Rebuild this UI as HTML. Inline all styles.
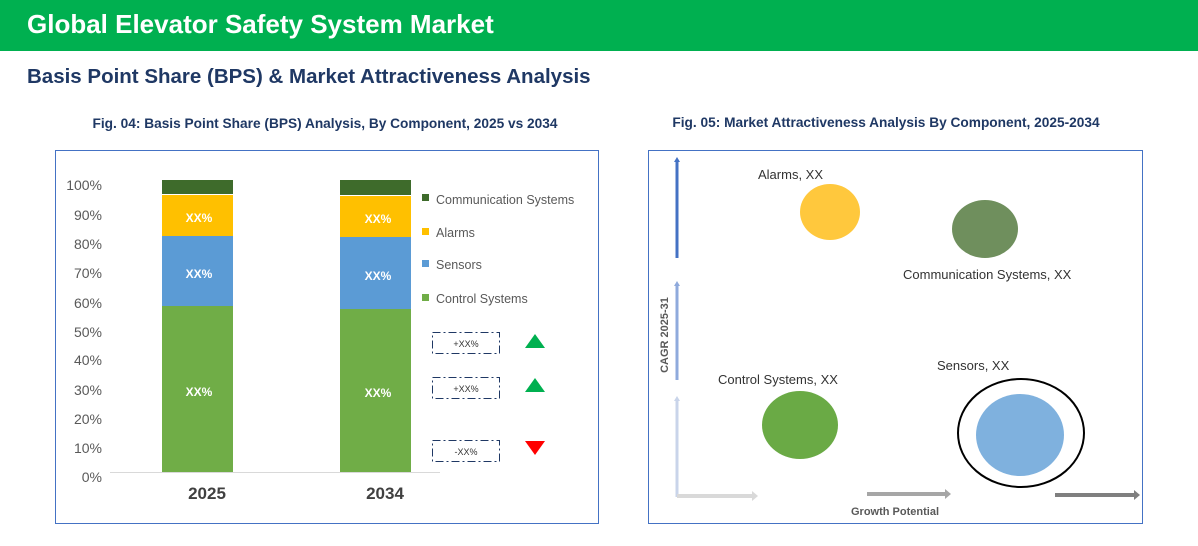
<!DOCTYPE html>
<html><head><meta charset="utf-8"><style>
body{margin:0;width:1198px;height:541px;background:#fff;overflow:hidden;font-family:"Liberation Sans",sans-serif}
</style></head><body>
<svg width="1198" height="541" xmlns="http://www.w3.org/2000/svg" font-family="Liberation Sans, sans-serif">
<rect x="0" y="0" width="1198" height="51" fill="#00b050"/>
<text x="27" y="33" font-size="26" font-weight="bold" fill="#fff">Global Elevator Safety System Market</text>
<text x="27" y="83" font-size="20.5" font-weight="bold" fill="#1f3864">Basis Point Share (BPS) &amp; Market Attractiveness Analysis</text>
<text x="325" y="128" font-size="13.7" font-weight="bold" fill="#1f3864" text-anchor="middle">Fig. 04: Basis Point Share (BPS) Analysis, By Component, 2025 vs 2034</text>
<text x="886" y="127" font-size="13.7" font-weight="bold" fill="#1f3864" text-anchor="middle">Fig. 05: Market Attractiveness Analysis By Component, 2025-2034</text>
<rect x="55.5" y="150.5" width="543" height="373" fill="none" stroke="#4472c4" stroke-width="1"/>
<g font-size="14" fill="#595959" text-anchor="end">
<text x="102" y="190">100%</text><text x="102" y="220">90%</text><text x="102" y="249">80%</text><text x="102" y="278">70%</text><text x="102" y="308">60%</text><text x="102" y="337">50%</text><text x="102" y="365">40%</text><text x="102" y="395">30%</text><text x="102" y="424">20%</text><text x="102" y="453">10%</text><text x="102" y="482">0%</text>
</g>
<line x1="110" y1="472.5" x2="440" y2="472.5" stroke="#d9d9d9"/>
<rect x="162" y="180" width="71" height="14" fill="#3e6b2b"/>
<rect x="162" y="195" width="71" height="41" fill="#ffc000"/>
<rect x="162" y="236" width="71" height="70" fill="#5b9bd5"/>
<rect x="162" y="306" width="71" height="166" fill="#70ad47"/>
<rect x="340" y="180" width="71" height="15" fill="#3e6b2b"/>
<rect x="340" y="196" width="71" height="41" fill="#ffc000"/>
<rect x="340" y="237" width="71" height="72" fill="#5b9bd5"/>
<rect x="340" y="309" width="71" height="163" fill="#70ad47"/>
<g font-size="12" font-weight="bold" fill="#fff" text-anchor="middle">
<text x="199" y="222">XX%</text><text x="199" y="278">XX%</text><text x="199" y="396">XX%</text>
<text x="378" y="223">XX%</text><text x="378" y="280">XX%</text><text x="378" y="397">XX%</text>
</g>
<g font-size="17" font-weight="bold" fill="#404040" text-anchor="middle"><text x="207" y="499">2025</text><text x="385" y="499">2034</text></g>
<rect x="422" y="194" width="7" height="7" fill="#3e6b2b"/><rect x="422" y="228" width="7" height="7" fill="#ffc000"/>
<rect x="422" y="260" width="7" height="7" fill="#5b9bd5"/><rect x="422" y="294" width="7" height="7" fill="#70ad47"/>
<g font-size="12.5" fill="#595959"><text x="436" y="204">Communication Systems</text><text x="436" y="237">Alarms</text><text x="436" y="269">Sensors</text><text x="436" y="303">Control Systems</text></g>
<g fill="none" stroke="#1f3864" stroke-dasharray="8,3,2,3">
<rect x="432.5" y="332.5" width="67" height="21"/><rect x="432.5" y="377.5" width="67" height="21"/><rect x="432.5" y="440.5" width="67" height="21"/>
</g>
<g font-size="9" fill="#333" text-anchor="middle"><text x="466" y="347">+XX%</text><text x="466" y="392">+XX%</text><text x="466" y="455">-XX%</text></g>
<polygon points="535,334 545,348 525,348" fill="#00b050"/>
<polygon points="535,378 545,392 525,392" fill="#00b050"/>
<polygon points="525,441 545,441 535,455" fill="#ff0000"/>
<rect x="648.5" y="150.5" width="494" height="373" fill="none" stroke="#4472c4"/>
<line x1="677" y1="258" x2="677" y2="162" stroke="#4472c4" stroke-width="3"/><polygon points="674,162 680,162 677,157" fill="#4472c4"/>
<line x1="677" y1="380" x2="677" y2="286" stroke="#8faadc" stroke-width="3"/><polygon points="674,286 680,286 677,281" fill="#8faadc"/>
<line x1="677" y1="497" x2="677" y2="401" stroke="#c9d4ea" stroke-width="3"/><polygon points="674,401 680,401 677,396" fill="#c9d4ea"/>
<line x1="677" y1="496" x2="752" y2="496" stroke="#d9d9d9" stroke-width="4"/><polygon points="752,491 752,501 758,496" fill="#d9d9d9"/>
<line x1="867" y1="494" x2="945" y2="494" stroke="#a6a6a6" stroke-width="4"/><polygon points="945,489 945,499 951,494" fill="#a6a6a6"/>
<line x1="1055" y1="495" x2="1134" y2="495" stroke="#7f7f7f" stroke-width="4"/><polygon points="1134,490 1134,500 1140,495" fill="#7f7f7f"/>
<text x="895" y="515" font-size="11" font-weight="bold" fill="#595959" text-anchor="middle">Growth Potential</text>
<text transform="translate(668,335) rotate(-90)" font-size="11" font-weight="bold" fill="#595959" text-anchor="middle">CAGR 2025-31</text>
<ellipse cx="830" cy="212" rx="30" ry="28" fill="#ffc83d"/>
<ellipse cx="985" cy="229" rx="33" ry="29" fill="#6f8f5d"/>
<ellipse cx="800" cy="425" rx="38" ry="34" fill="#6aaa45"/>
<ellipse cx="1020" cy="435" rx="44" ry="41" fill="#7fb1de"/>
<ellipse cx="1021" cy="433" rx="63" ry="54" fill="none" stroke="#000" stroke-width="2"/>
<g font-size="13" fill="#333"><text x="758" y="179">Alarms, XX</text><text x="903" y="279">Communication Systems, XX</text><text x="718" y="384">Control Systems, XX</text><text x="937" y="370">Sensors, XX</text></g>
</svg>
</body></html>
